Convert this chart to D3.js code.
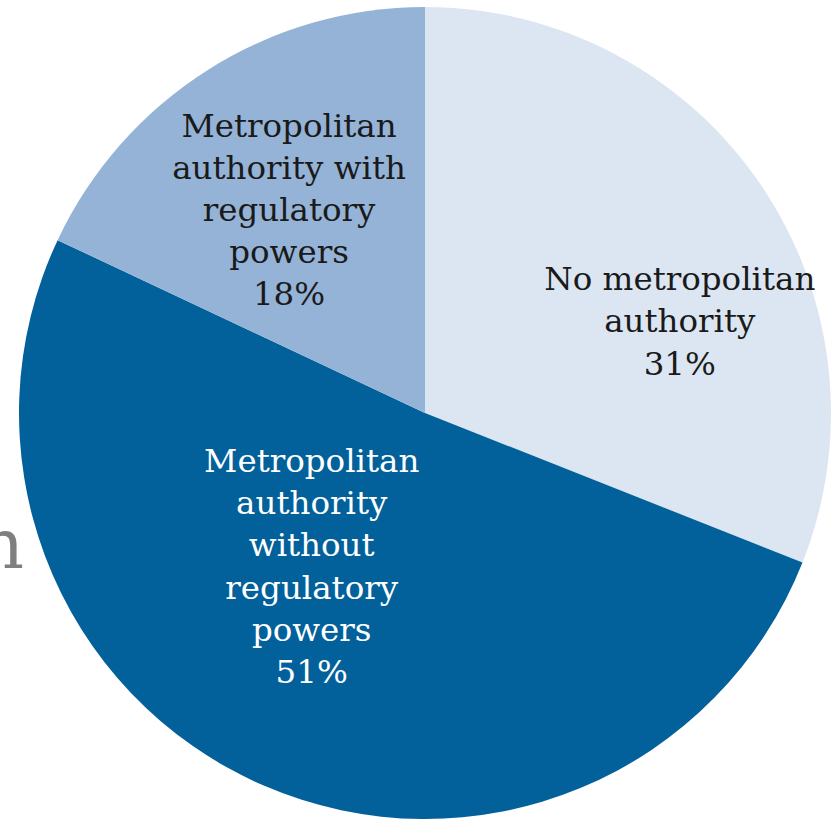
<!DOCTYPE html>
<html>
<head>
<meta charset="utf-8">
<script src="https://cdn.jsdelivr.net/npm/d3@7"></script>
<style>
  html, body { margin: 0; padding: 0; background: #fff; }
  svg { display: block; }
</style>
</head>
<body>
<svg id="chart" width="833" height="820"></svg>
<script>
// slices, clockwise from 12 o'clock
const categories = [
  'No metropolitan authority',
  'Metropolitan authority without regulatory powers',
  'Metropolitan authority with regulatory powers'
];
const shares = [31, 51, 18];
const labelLines = [
  ['No metropolitan', 'authority', '31%'],
  ['Metropolitan', 'authority', 'without', 'regulatory', 'powers', '51%'],
  ['Metropolitan', 'authority with', 'regulatory', 'powers', '18%']
];

const style = {
  fontFamily: '"DejaVu Serif", Georgia, serif',
  fontSize: 32.5,
  lineHeight: 42.2,
  colors: ['#dce6f2', '#02619a', '#95b3d7'],
  textColors: ['#1a1a1a', '#ffffff', '#1a1a1a'],
  bgTextColor: '#7f7f7f'
};

// nudges from the label arc to where each block sits
const labelNudge = [[48, 60], [-14, -65], [-2, 19]];

const svg = d3.select('#chart');
const cx = 425, cy = 413, radius = 406;

// stray letter from the page behind the pie
svg.append('text')
  .attr('x', 24)
  .attr('y', 568)
  .attr('text-anchor', 'end')
  .attr('fill', style.bgTextColor)
  .style('font-family', style.fontFamily)
  .style('font-size', '70px')
  .text('n');

const main = svg.append('g')
  .attr('transform', `translate(${cx}, ${cy})`);

const data = categories.map((c, i) => ({ category: c, value: shares[i], lines: labelLines[i], idx: i }));

const pie = d3.pie()
  .sort(null)
  .value(d => d.value);

const arc = d3.arc().innerRadius(0).outerRadius(radius);
const labelArc = d3.arc().innerRadius(250).outerRadius(250);

const arcs = pie(data);

main.selectAll('path.slice')
  .data(arcs)
  .enter()
  .append('path')
    .attr('class', 'slice')
    .attr('d', arc)
    .attr('fill', d => style.colors[d.data.idx])
    .attr('stroke', 'none');

const labels = main.selectAll('g.label')
  .data(arcs)
  .enter()
  .append('g')
    .attr('class', 'label')
    .attr('transform', d => {
      const [x, y] = labelArc.centroid(d);
      const [dx, dy] = labelNudge[d.data.idx];
      return `translate(${x + dx}, ${y + dy})`;
    });

labels.append('text')
  .attr('text-anchor', 'middle')
  .attr('fill', d => style.textColors[d.data.idx])
  .style('font-family', style.fontFamily)
  .style('font-size', style.fontSize + 'px')
  .selectAll('tspan')
  .data(d => d.data.lines.map((t, i, a) => ({ t, off: i - (a.length - 1) / 2 })))
  .enter()
  .append('tspan')
    .attr('x', 0)
    .attr('y', d => d.off * style.lineHeight)
    .text(d => d.t);
</script>
</body>
</html>
